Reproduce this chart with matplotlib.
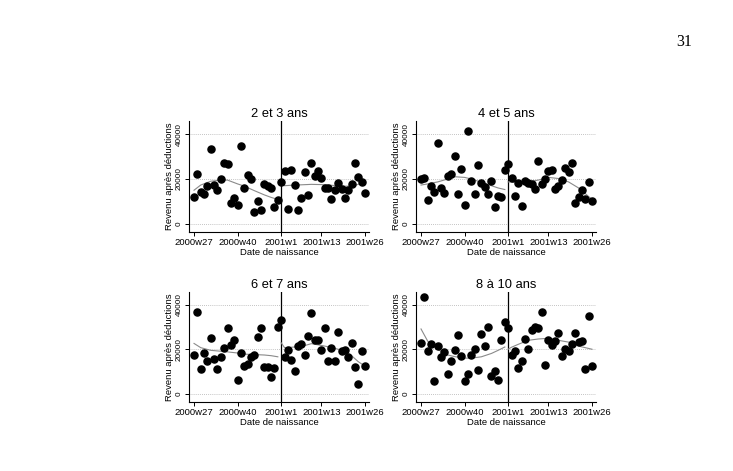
import numpy as np
import matplotlib
matplotlib.use("Agg")
from matplotlib import pyplot as plt

plt.rcParams['font.family'] = ['Liberation Sans', 'DejaVu Sans']

# weekly birth cohorts, 2000w27 .. 2001w26
weeks = np.arange(52)
tick_weeks = [0, 13, 26, 38, 51]
tick_labels = ['2000w27', '2000w40', '2001w1', '2001w13', '2001w26']
cutoff_week = 25.85

titles = ['2 et 3 ans', '4 et 5 ans', '6 et 7 ans', '8 à 10 ans']

# mean income per week of birth
rev_2_3 = [11800, 22100, 14000, 13300, 17000, 33400, 17400, 14900, 19800, 27300,
           26600, 9400, 11400, 8600, 34500, 15800, 21800, 19900, 5500, 10000,
           6300, 17600, 16800, 16100, 7700, 10500, 18600, 23500, 6600, 24100,
           17100, 6200, 11500, 22900, 12800, 27000, 21300, 23600, 20500, 16100,
           16100, 11200, 15200, 18000, 15600, 11500, 15200, 17600, 26900, 20700,
           18600, 13900]
rev_4_5 = [19900, 20500, 10600, 16700, 14000, 35900, 15900, 13600, 21300, 22300,
           30400, 13100, 24600, 8300, 41200, 19200, 13400, 26100, 18000, 16500,
           13300, 19200, 7400, 12400, 12000, 24200, 26700, 20400, 12400, 18000,
           8000, 18900, 18200, 17600, 15600, 28200, 17700, 19900, 23500, 23900,
           15600, 16700, 19500, 24800, 23000, 27200, 9300, 12000, 15100, 11200,
           18600, 10000]
rev_6_7 = [17400, 36600, 11100, 18200, 14600, 25100, 15600, 11200, 16800, 20700,
           29700, 21800, 24100, 6100, 18200, 12700, 13600, 16700, 17700, 25700,
           29700, 12000, 12000, 7500, 11500, 30100, 33200, 16500, 19600, 15200,
           10200, 21700, 22400, 17700, 26100, 36500, 24400, 24400, 19600, 29700,
           14900, 20800, 14900, 28000, 19200, 19800, 16400, 22900, 12100, 4700,
           19300, 12400]
rev_8_10 = [22900, 43400, 19500, 22300, 5900, 21700, 16700, 19000, 9000, 14800,
            19800, 26300, 17100, 5900, 8900, 17600, 20400, 10900, 27000, 21700,
            30000, 8000, 10300, 6500, 24100, 32500, 29700, 17400, 19300, 11700,
            14900, 24600, 20200, 28900, 30100, 29500, 37000, 13100, 24400, 22000,
            23600, 27300, 17000, 20400, 19300, 22300, 27500, 23200, 23900, 11400,
            35100, 12500]

# smoothed fit, before and after the cutoff
fit_left_weeks = [0, 2, 5, 8, 10, 13, 15, 18, 21, 23, 25]
fit_right_weeks = [26, 27, 29, 32, 35, 38, 41, 44, 47, 49, 51]
fit_2_3_l = [15000, 17300, 19000, 19500, 19500, 17800, 16800, 14800, 12900, 11800, 10900]
fit_2_3_r = [18700, 17000, 17200, 17400, 17600, 17500, 17200, 16800, 16800, 17600, 19000]
fit_4_5_l = [17300, 17800, 18700, 20000, 21000, 20700, 20000, 18500, 17000, 16000, 15300]
fit_4_5_r = [18700, 18600, 18500, 18700, 19500, 20700, 20200, 18700, 16000, 13500, 10900]
fit_6_7_l = [22700, 20800, 19600, 19200, 18900, 18400, 17900, 17700, 17500, 17200, 16700]
fit_6_7_r = [23000, 20800, 21000, 21300, 22600, 21800, 20900, 19700, 17200, 14500, 12500]
fit_8_10_l = [29200, 23700, 20000, 17500, 16800, 16100, 16100, 16700, 18200, 19600, 21100]
fit_8_10_r = [20100, 21000, 22300, 24100, 24700, 25000, 24100, 23300, 21500, 20800, 20100]

series = [rev_2_3, rev_4_5, rev_6_7, rev_8_10]
fits = [(fit_2_3_l, fit_2_3_r), (fit_4_5_l, fit_4_5_r),
        (fit_6_7_l, fit_6_7_r), (fit_8_10_l, fit_8_10_r)]

W, H = 733, 471
fig = plt.figure(figsize=(W / 100, H / 100), dpi=100)
fig.patch.set_facecolor('white')

# axes boxes in pixels: left, top, width, height
boxes = [(189, 121, 180, 111), (416, 121, 180, 111),
         (189, 292, 180, 110), (416, 292, 180, 110)]

for i, (l, t, w, h) in enumerate(boxes):
    ax = fig.add_axes([l / W, 1 - (t + h) / H, w / W, h / H])
    ax.set_xlim(-1.5, 52.2)
    ax.set_ylim(-3600, 45800)
    for yg in [0, 20000, 40000]:
        ax.axhline(yg, color='#b0b0b0', lw=0.6, ls=(0, (1, 1.5)), zorder=1)
    ax.axvline(cutoff_week, color='black', lw=0.9, zorder=2)
    ax.plot(fit_left_weeks, fits[i][0], color='#8a8a8a', lw=0.8, zorder=3)
    ax.plot(fit_right_weeks, fits[i][1], color='#8a8a8a', lw=0.8, zorder=3)
    ax.plot(weeks, series[i], 'o', color='black', ms=5.1, zorder=4)

    ax.spines['top'].set_visible(False)
    ax.spines['right'].set_visible(False)
    for s in ['left', 'bottom']:
        ax.spines[s].set_linewidth(0.8)

    ax.set_xticks(tick_weeks)
    ax.set_xticklabels(tick_labels, fontsize=6.8)
    ax.set_yticks([0, 20000, 40000])
    ax.set_yticklabels(['0', '20000', '40000'], fontsize=5.9,
                       rotation=90, va='center')
    ax.tick_params(axis='both', length=3, width=0.7, pad=1.5)
    ax.set_xlabel('Date de naissance', fontsize=6.8, labelpad=0.5)
    ax.set_ylabel('Revenu après déductions', fontsize=6.8, labelpad=1.5)
    ax.set_title(titles[i], fontsize=9.3, pad=3)

fig.text(684 / W, 1 - 42 / H, '31', fontsize=11.5, family='Liberation Serif',
         ha='center', va='center')

fig.savefig('out.png', dpi=100, facecolor='white')
